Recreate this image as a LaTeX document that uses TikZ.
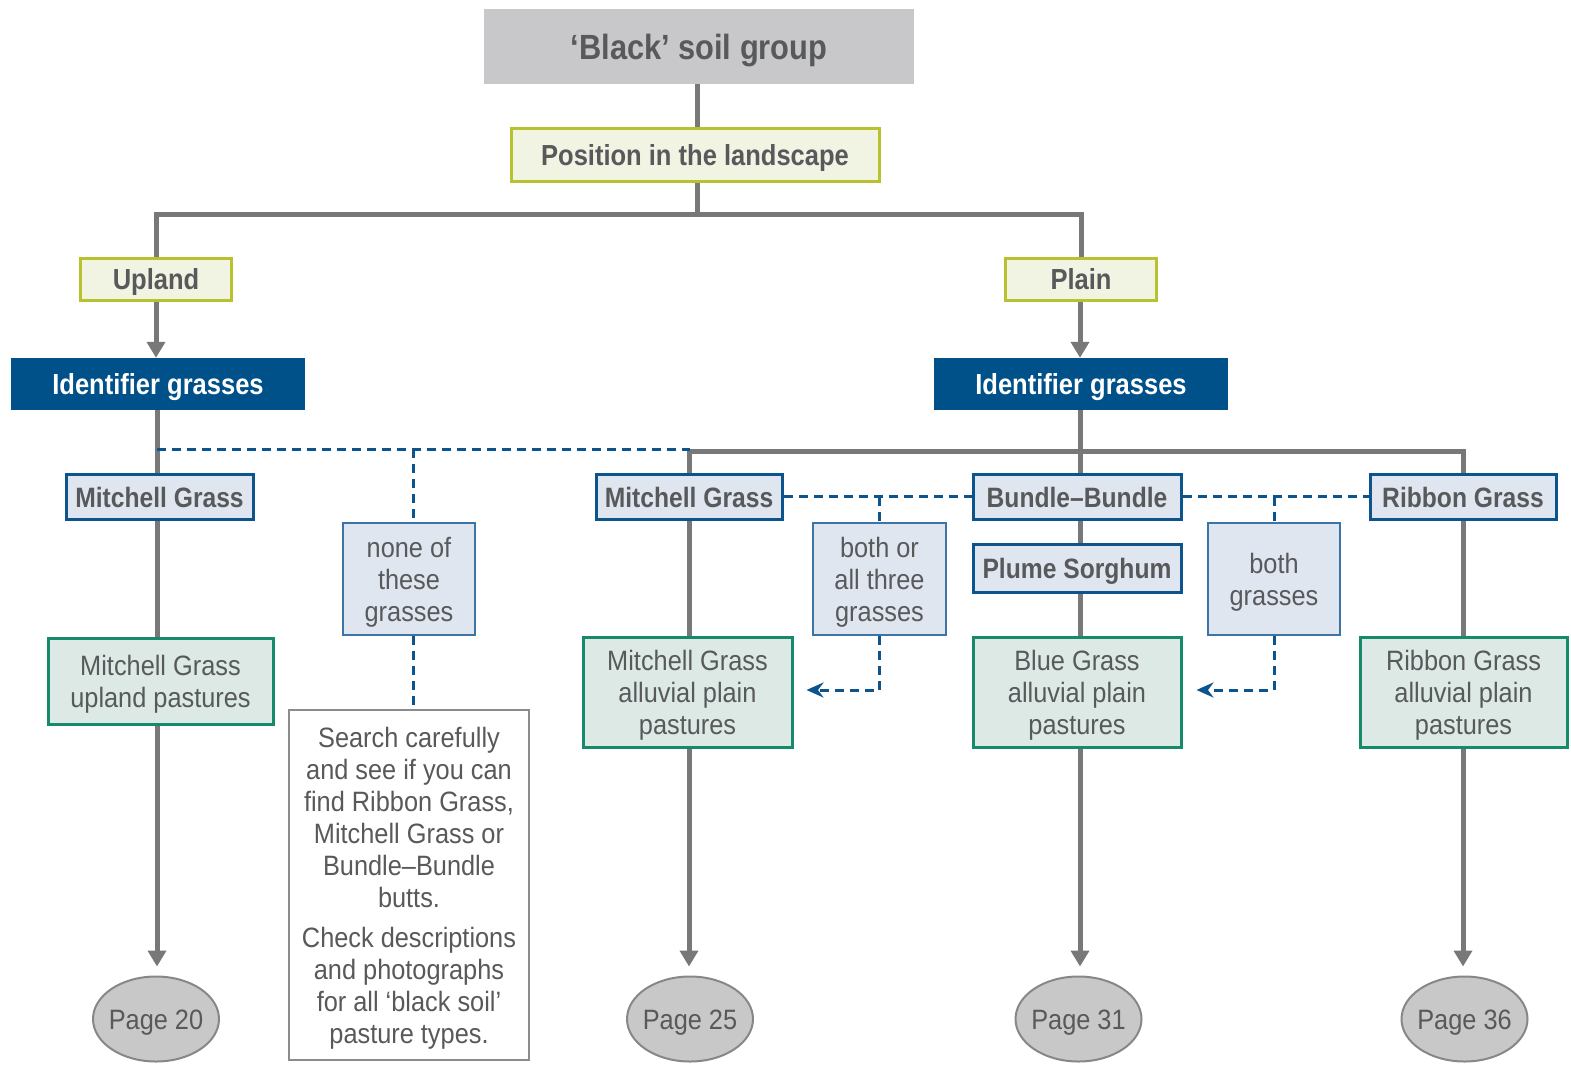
\documentclass[tikz,border=0pt]{standalone}
\usepackage{fontspec}
\setmainfont{Liberation Sans}[UprightFeatures={FakeStretch=0.905},BoldFeatures={FakeStretch=0.88}]
\usetikzlibrary{arrows.meta,shapes.geometric,backgrounds}
\definecolor{txt}{HTML}{58595B}
\definecolor{headgray}{HTML}{C8C8CA}
\definecolor{cream}{HTML}{F1F3E3}
\definecolor{olive}{HTML}{B8C22F}
\definecolor{idblue}{HTML}{00518A}
\definecolor{lblue}{HTML}{E0E6F0}
\definecolor{dblue}{HTML}{0D548C}
\definecolor{mblue}{HTML}{3C74A8}
\definecolor{lgreen}{HTML}{DCE9E5}
\definecolor{dgreen}{HTML}{178A6C}
\definecolor{pgray}{HTML}{C8C8C8}
\definecolor{egray}{HTML}{878787}
\definecolor{trunkgray}{HTML}{787878}
\definecolor{notegray}{HTML}{8C8C8C}
\newcommand\myreg{\fontsize{28}{32}\selectfont}
\newcommand\mybold{\fontsize{29}{33}\selectfont\bfseries}
\begin{document}
\begin{tikzpicture}[x=1pt,y=-1pt,
  bx/.style={rectangle, inner sep=0pt, align=center, text=txt},
  one/.style={text height=20pt, text depth=0pt},
  oneb/.style={text height=21pt, text depth=0pt},
  two/.style={text height=52pt, text depth=0pt},
  three/.style={text height=84pt, text depth=0pt},
  head/.style={bx, fill=headgray, font=\fontsize{35}{40}\selectfont\bfseries, text height=25pt, text depth=0pt},
  posbox/.style={bx, oneb, fill=cream, draw=olive, line width=3pt, font=\mybold},
  ident/.style={bx, oneb, fill=idblue, text=white, font=\mybold},
  grass/.style={bx, oneb, fill=lblue, draw=dblue, line width=3pt, font=\fontsize{28}{32}\selectfont\bfseries},
  alt/.style={bx, three, fill=lblue, draw=mblue, line width=1.5pt, font=\myreg},
  past/.style={bx, three, fill=lgreen, draw=dgreen, line width=3pt, font=\myreg},
  pagebox/.style={ellipse, one, inner sep=-8pt, fill=pgray, draw=egray, line width=2pt, text=txt, font=\myreg, minimum width=126pt, minimum height=85pt},
  note/.style={bx, fill=white, draw=notegray, line width=2pt, font=\myreg, text height=316pt, text depth=0pt},
  trunk/.style={draw=trunkgray, line width=5pt, line join=miter},
  arr/.style={trunk, -{Triangle[length=16pt,width=18pt]}},
  dline/.style={draw=dblue, line width=3pt, dash pattern=on 9pt off 6pt},
  darr/.style={dline, -{Stealth[length=17pt,width=15pt]}}
]
\useasboundingbox (0,0) rectangle (1571,1066);
\node[head, minimum width=430pt, minimum height=75pt] (black) at (699,46.5) {‘Black’ soil group};
\node[posbox, minimum width=368pt, minimum height=53pt] (pos) at (695,154.5) {Position in the landscape};
\node[posbox, minimum width=151pt, minimum height=42pt] (upland) at (156,279) {Upland};
\node[posbox, minimum width=151pt, minimum height=42pt] (plain) at (1081,279) {Plain};
\node[ident, minimum width=294pt, minimum height=52pt] (idL) at (158,384) {Identifier grasses};
\node[ident, minimum width=294pt, minimum height=52pt] (idR) at (1081,384) {Identifier grasses};
\node[grass, minimum width=187pt, minimum height=45pt] (mgL) at (159.5,496.5) {Mitchell Grass};
\node[past, two, minimum width=225pt, minimum height=86pt] (pastL) at (160.5,681) {Mitchell Grass\\upland pastures};
\node[alt, minimum width=132pt, minimum height=112pt] (none) at (409,579) {none of\\these\\grasses};
\node[note, minimum width=240pt, minimum height=350pt] (note) at (409,885) {Search carefully\\and see if you can\\find Ribbon Grass,\\Mitchell Grass or\\Bundle–Bundle\\butts.\\[8pt]Check descriptions\\and photographs\\for all ‘black soil’\\pasture types.};
\node[grass, minimum width=186pt, minimum height=45pt] (mgR) at (689,496.5) {Mitchell Grass};
\node[grass, minimum width=208pt, minimum height=45pt] (bb) at (1077,496.5) {Bundle–Bundle};
\node[grass, minimum width=208pt, minimum height=48pt] (ps) at (1077,568) {Plume Sorghum};
\node[grass, minimum width=186pt, minimum height=45pt] (rg) at (1463,496.5) {Ribbon Grass};
\node[alt, minimum width=133pt, minimum height=112pt] (both3) at (879.5,579) {both or\\all three\\grasses};
\node[alt, two, minimum width=132pt, minimum height=112pt] (both2) at (1274,579) {both\\grasses};
\node[past, minimum width=209pt, minimum height=110pt] (pastM) at (687.5,692) {Mitchell Grass\\alluvial plain\\pastures};
\node[past, minimum width=208pt, minimum height=110pt] (pastB) at (1077,692) {Blue Grass\\alluvial plain\\pastures};
\node[past, minimum width=207pt, minimum height=110pt] (pastR) at (1463.5,692) {Ribbon Grass\\alluvial plain\\pastures};
\node[pagebox] (p20) at (156,1019) {Page 20};
\node[pagebox] (p25) at (690,1019) {Page 25};
\node[pagebox] (p31) at (1078.5,1019) {Page 31};
\node[pagebox] (p36) at (1464.5,1019) {Page 36};
\coordinate (j0) at (697,214);
\coordinate (jr) at (1080,451);
\coordinate (cL) at (157,410);
\coordinate (dL) at (157,449);
\coordinate (dR) at (690,449);
\coordinate (dN) at (413,449);
\begin{scope}[on background layer]
  \draw[trunk] (black.south -| j0) -- (j0);
  \draw[trunk] (upland.north) -- (upland.north |- j0) -- (plain.north |- j0) -- (plain.north);
  \draw[trunk] (cL) -- (cL |- pastL.north);
  \draw[trunk] (jr |- idR.south) -- (jr |- pastB.north);
  \draw[trunk] (mgR.north) -- (mgR.north |- jr) -- (rg.north |- jr) -- (rg.north);
  \draw[trunk] (mgR.south) -- (mgR.south |- pastM.north);
  \draw[trunk] (rg.south) -- (rg.south |- pastR.north);
  \draw[dline] (dL) -- (dR);
  \draw[dline] (dN) -- (dN |- none.north);
  \draw[dline] (dN |- none.south) -- (dN |- note.north);
  \draw[dline] (mgR.east) -- (bb.west);
  \draw[dline] (both3.north |- mgR.east) -- (both3.north);
  \draw[dline] (bb.east) -- (rg.west);
  \draw[dline] (both2.north |- bb.east) -- (both2.north);
\end{scope}
\draw[arr] (upland.south) -- (upland.south |- idL.north);
\draw[arr] (plain.south -| jr) -- (jr |- idR.north);
\draw[arr] (cL |- pastL.south) -- ([yshift=9pt]p20.north -| cL);
\draw[arr] (mgR.south |- pastM.south) -- ([yshift=9pt]p25.north -| mgR.south);
\draw[arr] (jr |- pastB.south) -- ([yshift=9pt]p31.north -| jr);
\draw[arr] (rg.south |- pastR.south) -- ([yshift=9pt]p36.north -| rg.south);
\draw[darr] (both3.south) |- ([xshift=13pt,yshift=2pt]pastM.east);
\draw[darr] (both2.south) |- ([xshift=14pt,yshift=2pt]pastB.east);
\end{tikzpicture}
\end{document}
